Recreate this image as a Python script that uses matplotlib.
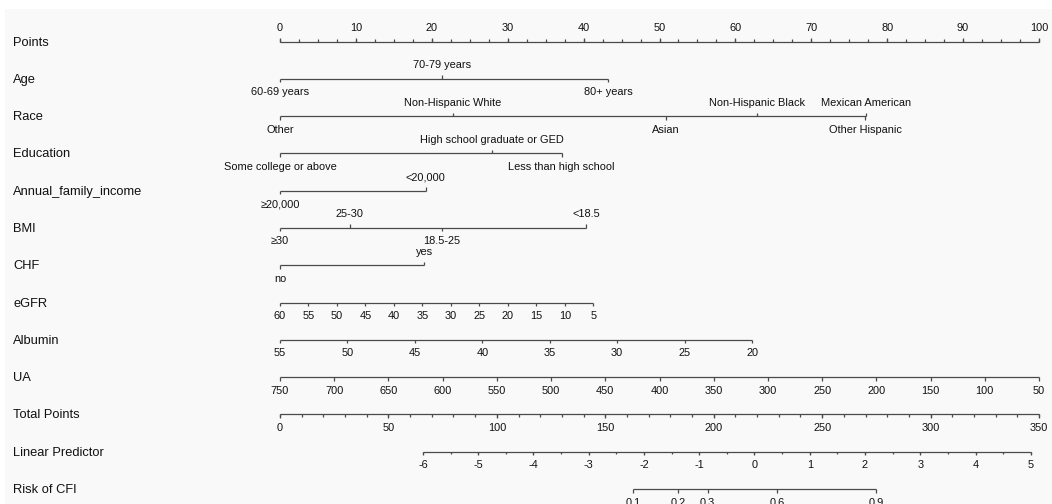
import numpy as np
import matplotlib.pyplot as plt
from matplotlib.patches import Rectangle

plt.rcParams['font.family'] = ['Liberation Sans', 'DejaVu Sans']

# Row names, top to bottom
row_names = ["Points", "Age", "Race", "Education", "Annual_family_income", "BMI", "CHF",
             "eGFR", "Albumin", "UA", "Total Points", "Linear Predictor", "Risk of CFI"]

# Points scale
points_major = np.arange(0, 101, 10)
points_minor = np.arange(0, 100.1, 2.5)

# Categorical variables: level labels, their points, and which side the label sits on
age_labels = ["60-69 years", "70-79 years", "80+ years"]
age_points = [0, 21.4, 43.2]
age_side = ["below", "above", "below"]

race_labels = ["Other", "Non-Hispanic White", "Asian", "Non-Hispanic Black",
               "Other Hispanic", "Mexican American"]
race_points = [0, 22.8, 50.8, 62.8, 77.1, 77.2]
race_side = ["below", "above", "below", "above", "below", "above"]

edu_labels = ["Some college or above", "High school graduate or GED", "Less than high school"]
edu_points = [0, 27.9, 37.1]
edu_side = ["below", "above", "below"]

income_labels = ["≥20,000", "<20,000"]
income_points = [0, 19.2]
income_side = ["below", "above"]

bmi_labels = ["≥30", "25-30", "18.5-25", "<18.5"]
bmi_points = [0, 9.2, 21.3, 40.3]
bmi_side = ["below", "above", "below", "above"]

chf_labels = ["no", "yes"]
chf_points = [0, 19.0]
chf_side = ["below", "above"]

# Continuous variables: values and the points of the far end
egfr_values = np.arange(60, 4, -5)
egfr_end_points = 41.3
albumin_values = np.arange(55, 19, -5)
albumin_end_points = 62.2
ua_values = np.arange(750, 49, -50)
ua_end_points = 100.0

# Total points / linear predictor / risk
total_major = np.arange(0, 351, 50)
total_minor = np.arange(0, 351, 10)
total_max = 350
lp_major = np.arange(-6, 6, 1)
lp_minor = np.arange(-6, 5.01, 0.5)
lp_zero_total = 218.8   # total points where linear predictor = 0
lp_per_unit = 25.48     # total points per unit of linear predictor
risk_values = [0.1, 0.2, 0.3, 0.6, 0.9]

# layout in pixels
W, H = 1052, 504
x0_px, pt_px = 280, 7.59
row0_px, row_px = 41.5, 37.3
line_col = "#4a4a4a"
text_col = "#111111"

fig = plt.figure(figsize=(W / 100, H / 100), dpi=100)
fig.patch.set_facecolor("white")
ax = fig.add_axes([0, 0, 1, 1])
ax.patch.set_alpha(0)
ax.axis("off")
ax.add_artist(Rectangle((5 / W, 0), 1, (H - 9) / H, transform=fig.transFigure,
                        facecolor="#f9f9f9", edgecolor="none", zorder=-10))
ax.set_xlim(-x0_px / pt_px, (W - x0_px) / pt_px)
ax.set_ylim((H - row0_px) / row_px, -row0_px / row_px)

dy = 1 / row_px  # one pixel in row units
tick_big = 3.5 * dy
tick_small = 2.5 * dy
lab_off = 13.5 * dy
lw = 0.9


def draw_axis(row, xs, labels, sides, minor=None):
    ax.hlines(row, min(xs), max(xs), color=line_col, lw=lw)
    for x, lab, side in zip(xs, labels, sides):
        s = -1 if side == "above" else 1
        ax.vlines(x, row, row + s * tick_big, color=line_col, lw=lw)
        ax.text(x, row + s * lab_off, lab, ha="center", va="center",
                fontsize=7.9, color=text_col)
    if minor is not None:
        s = -1 if sides[0] == "above" else 1
        for x in minor:
            ax.vlines(x, row, row + s * tick_small, color=line_col, lw=lw)


for i, name in enumerate(row_names):
    ax.text((13 - x0_px) / pt_px, i + 1 * dy, name, ha="left", va="center",
            fontsize=9.3, color=text_col)

# Points
draw_axis(0, points_major, [str(v) for v in points_major], ["above"] * len(points_major),
          minor=points_minor)

# categorical rows
draw_axis(1, age_points, age_labels, age_side)
draw_axis(2, race_points, race_labels, race_side)
draw_axis(3, edu_points, edu_labels, edu_side)
draw_axis(4, income_points, income_labels, income_side)
draw_axis(5, bmi_points, bmi_labels, bmi_side)
draw_axis(6, chf_points, chf_labels, chf_side)

# continuous rows
egfr_x = (egfr_values.max() - egfr_values) / (egfr_values.max() - egfr_values.min()) * egfr_end_points
draw_axis(7, egfr_x, [str(v) for v in egfr_values], ["below"] * len(egfr_values))
alb_x = (albumin_values.max() - albumin_values) / (albumin_values.max() - albumin_values.min()) * albumin_end_points
draw_axis(8, alb_x, [str(v) for v in albumin_values], ["below"] * len(albumin_values))
ua_x = (ua_values.max() - ua_values) / (ua_values.max() - ua_values.min()) * ua_end_points
draw_axis(9, ua_x, [str(v) for v in ua_values], ["below"] * len(ua_values))


def total_to_x(tp):
    return np.asarray(tp) * 100 / total_max


draw_axis(10, total_to_x(total_major), [str(v) for v in total_major], ["below"] * len(total_major),
          minor=total_to_x(total_minor))


def lp_to_x(lp):
    return total_to_x(lp_zero_total + np.asarray(lp) * lp_per_unit)


draw_axis(11, lp_to_x(lp_major), [str(v) for v in lp_major], ["below"] * len(lp_major),
          minor=lp_to_x(lp_minor))

risk = np.array(risk_values)
draw_axis(12, lp_to_x(np.log(risk / (1 - risk))), [str(v) for v in risk_values],
          ["below"] * len(risk_values))

fig.savefig("out.png", dpi=100)
